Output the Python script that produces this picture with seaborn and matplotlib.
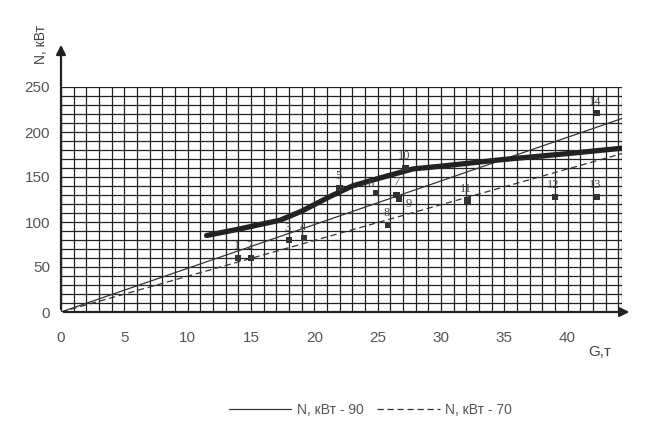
import matplotlib
matplotlib.use("Agg")
import matplotlib.pyplot as plt
import seaborn as sns
import pandas as pd
import numpy as np

# ---- data ----
x_ticks = [0, 5, 10, 15, 20, 25, 30, 35, 40]
y_ticks = [0, 50, 100, 150, 200, 250]

# thick curve
curve_G = [11.5, 14, 17.3, 19, 21.2, 23, 25.2, 27.8, 30, 34.6, 40, 44.3]
curve_N = [85, 92, 102, 112, 128, 140, 149, 159, 162, 169, 176, 182]

# straight lines
line90_G = [0, 44.3]
line90_N = [0, 215]
line70_G = [0, 44.3]
line70_N = [0, 176]

# measured points
pt_labels = ['1', '2', '3', '4', '5', '6', '7', '8', '9', '10', '11', '12', '13', '14']
pt_G = [14.0, 15.0, 18.0, 19.2, 22.0, 24.9, 26.5, 25.8, 26.7, 27.2, 32.1, 39.0, 42.3, 42.3]
pt_N = [60, 60, 80, 82, 138, 132, 130, 97, 126, 160, 124, 128, 128, 221]

legend_labels = ['N, кВт - 90', 'N, кВт - 70']

# ---- figure ----
sns.set_style("white")
plt.rcParams['font.family'] = ['Liberation Sans', 'DejaVu Sans']

fig = plt.figure(figsize=(6.5, 4.29), dpi=100)
ax = fig.add_axes([61/650, 1-312/429, (622-61)/650, (312-87)/429])

XMAX = 44.3
ax.set_xlim(0, XMAX)
ax.set_ylim(0, 250)

# grid
for g in np.arange(0, 45, 1):
    ax.axvline(g, color='#222222', lw=0.9, zorder=1)
ax.axvline(XMAX, color='#222222', lw=0.9, zorder=1)
for n in np.arange(0, 251, 10):
    ax.axhline(n, color='#222222', lw=0.9, zorder=1)

df90 = pd.DataFrame({'G': line90_G, 'N': line90_N})
df70 = pd.DataFrame({'G': line70_G, 'N': line70_N})
dfc = pd.DataFrame({'G': curve_G, 'N': curve_N})
dfp = pd.DataFrame({'G': pt_G, 'N': pt_N, 'lab': pt_labels})

sns.lineplot(data=df90, x='G', y='N', ax=ax, color='#333333', lw=0.9,
             label=legend_labels[0], zorder=3, sort=False)
sns.lineplot(data=df70, x='G', y='N', ax=ax, color='#333333', lw=0.9,
             linestyle=(0, (5, 3)), label=legend_labels[1], zorder=3, sort=False)
sns.lineplot(data=dfc, x='G', y='N', ax=ax, color='#222222', lw=3.8,
             zorder=4, sort=False, legend=False)
sns.scatterplot(data=dfp, x='G', y='N', ax=ax, marker='s', s=20, color='#333333',
                edgecolor='none', zorder=5, legend=False)

label_offsets = {'9': (7, -8), '6': (-4, 2), '7': (0, 5)}
for g, n, lab in zip(pt_G, pt_N, pt_labels):
    off = label_offsets.get(lab, (-1, 4))
    ax.annotate(lab, (g, n), xytext=off, textcoords='offset points',
                ha='center', va='bottom', fontsize=9, color='#444444',
                family='Liberation Serif', zorder=6)

# axes with arrows
for s in ['top', 'right', 'left', 'bottom']:
    ax.spines[s].set_visible(False)
ax.annotate('', xy=(0, 300), xytext=(0, 0), xycoords='data',
            arrowprops=dict(arrowstyle='-|>', color='#222222', lw=1.6,
                            mutation_scale=14), annotation_clip=False)
ax.annotate('', xy=(45.1, 0), xytext=(0, 0), xycoords='data',
            arrowprops=dict(arrowstyle='-|>', color='#222222', lw=1.6,
                            mutation_scale=14), annotation_clip=False)

ax.set_xticks(x_ticks)
ax.set_yticks(y_ticks)
ax.set_xticklabels([str(v) for v in x_ticks])
ax.set_yticklabels([str(v) for v in y_ticks])
ax.tick_params(axis='both', length=0, labelsize=11, labelcolor='#555555')
ax.tick_params(axis='x', pad=14)
ax.tick_params(axis='y', pad=8)
ax.set_xlabel('')
ax.set_ylabel('')

fig.text(600/650, 1-352/429, 'G,т', fontsize=11, color='#444444', ha='center', va='center')
fig.text(41/650, 1-45/429, 'N, кВт', fontsize=10, color='#444444', rotation=90,
         ha='center', va='center')

handles, labels = ax.get_legend_handles_labels()
ax.legend_.remove()
leg = fig.legend(handles, labels, loc='center', bbox_to_anchor=(0.57, 1-410/429),
                 ncol=2, frameon=False, fontsize=10, handlelength=4.5,
                 columnspacing=1.0, handletextpad=0.4)
for t in leg.get_texts():
    t.set_color('#555555')

fig.savefig('out.png', dpi=100)
